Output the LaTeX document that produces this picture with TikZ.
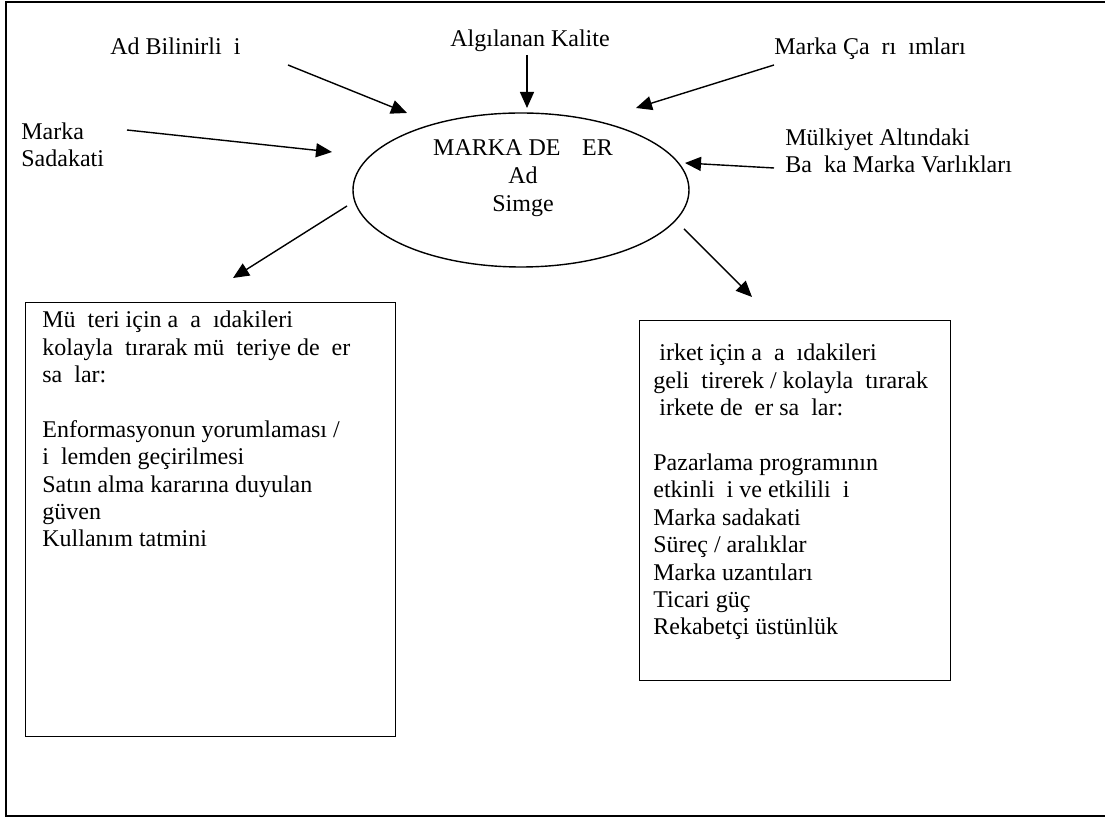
\documentclass[tikz,border=0pt]{standalone}
\usepackage{fontspec}
\setmainfont{Liberation Serif}
\usetikzlibrary{arrows.meta,shapes.geometric}

\begin{document}
\begin{tikzpicture}[x=0.5pt,y=-0.5pt,
      font=\fontsize{12}{13.7}\selectfont,
      lbl/.style={inner sep=0pt,align=left,anchor=base west},
      box/.style={draw,line width=0.6pt,anchor=north west,inner sep=0pt},
      arr/.style={-{Triangle[length=8pt,width=7pt]},line width=0.7pt}]
    \useasboundingbox (0,0) rectangle (1105,817);
    % outer frame, open on the right
    \draw[line width=1pt] (1110,2) -- (6,2) -- (6,816) -- (1110,816);
    % centre
    \node[draw,ellipse,line width=0.7pt,minimum width=168pt,minimum height=77pt,
          inner sep=0pt] (deger) at (521,190) {};
    \node[inner sep=0pt,align=center,anchor=base,
          font=\fontsize{12}{14}\selectfont] (degtxt) at (523,212)
      {MARKA DE\hspace{0.9em}ER\\Ad\\Simge};
    % sources (base = last line)
    \node[lbl] (adbil) at (110,55) {Ad Bilinirli~~i};
    \node[lbl,anchor=base] (kalite) at (530,47) {Algılanan Kalite};
    \node[lbl] (cagr) at (774,55) {Marka Ça~~rı~~ımları};
    \node[lbl] (sadak) at (21,167) {Marka\\Sadakati};
    \node[lbl] (mulk) at (785,173) {Mülkiyet Altındaki\\Ba~~ka Marka Varlıkları};
    % arrow ends
    \coordinate (adbil-s) at (288,65);   \coordinate (adbil-e) at (407,113);
    \coordinate (sadak-s) at (127,130);  \coordinate (sadak-e) at (332,152);
    \coordinate (kalite-s) at (527,55);  \coordinate (kalite-e) at (527,108);
    \coordinate (cagr-s) at (774,65);    \coordinate (cagr-e) at (636,108);
    \coordinate (mulk-s) at (774,168);   \coordinate (mulk-e) at (685,163);
    \coordinate (musteri-s) at (347,206); \coordinate (musteri-e) at (233,278);
    \coordinate (sirket-s) at (684,229);  \coordinate (sirket-e) at (752,297);
    \foreach \n in {adbil,sadak,kalite,cagr,mulk,musteri,sirket}{
      \draw[arr] (\n-s) -- (\n-e);}
    % outcome boxes
    \node[box,minimum width=185pt,minimum height=217pt]
      (musteri) at (25,302) {};
    \node[lbl] (mustxt) at (42,547)
      {Mü~~teri için a~~a~~ıdakileri\\
       kolayla~~tırarak mü~~teriye de~~er\\
       sa~~lar:\\[13.7pt]
       Enformasyonun yorumlaması /\\
       i~~lemden geçirilmesi\\
       Satın alma kararına duyulan\\
       güven\\
       Kullanım tatmini};
    \node[box,minimum width=155.5pt,minimum height=180pt]
      (sirket) at (639,320) {};
    \node[lbl] (sirtxt) at (653,635)
      {~irket için a~~a~~ıdakileri\\
       geli~~tirerek / kolayla~~tırarak\\
       ~irkete de~~er sa~~lar:\\[13.7pt]
       Pazarlama programının\\
       etkinli~~i ve etkilili~~i\\
       Marka sadakati\\
       Süreç / aralıklar\\
       Marka uzantıları\\
       Ticari güç\\
       Rekabetçi üstünlük};
  \end{tikzpicture}
\end{document}
